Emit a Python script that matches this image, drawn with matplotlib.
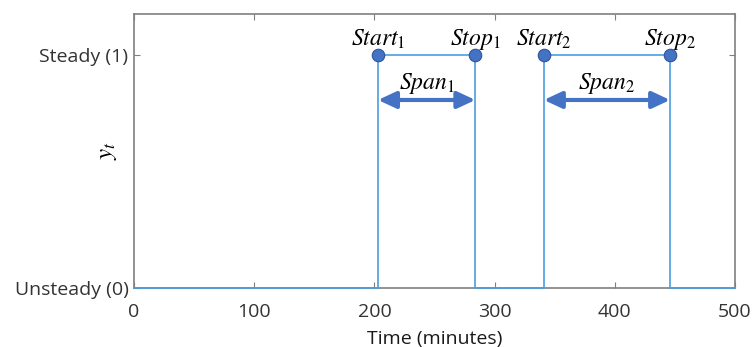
import numpy as np
import matplotlib.pyplot as plt

plt.rcParams["font.family"] = ["Open Sans", "DejaVu Sans"]
plt.rcParams["mathtext.fontset"] = "stix"

# step signal: steady periods
starts = [203, 341]
stops = [284, 446]
t_min, t_max = 0, 500
x_ticks = [0, 100, 200, 300, 400, 500]
y_ticks = [0, 1]
y_ticklabels = ["Unsteady (0)", "Steady (1)"]

line_c = "#4a9ee0"
mark_c = "#4472c4"
gray = "#7f7f7f"

# build the step series from the start/stop lists
tx = [t_min]
ty = [0]
for a, b in zip(starts, stops):
    tx += [a, a, b, b]
    ty += [0, 1, 1, 0]
tx.append(t_max)
ty.append(0)

fig = plt.figure(figsize=(7.52, 3.47), dpi=100)
ax = fig.add_axes([134/752, 1 - 288/347, (735-134)/752, (288-14)/347])

ax.plot(tx, ty, color=line_c, lw=1.2, clip_on=False, zorder=3)
ax.plot(starts + stops, [1]*4, "o", ms=9, mfc=mark_c, mec="#2f5597", mew=0.8, zorder=4)

for i, (a, b) in enumerate(zip(starts, stops), start=1):
    ax.annotate("", xy=(a, 0.807), xytext=(b, 0.807),
                arrowprops=dict(arrowstyle="<|-|>,head_length=0.9,head_width=0.42",
                                color=mark_c, lw=3,
                                mutation_scale=12, shrinkA=0, shrinkB=0))
    ax.text((a+b)/2, 0.825, r"$Span_{%d}$" % i, ha="center", va="bottom", fontsize=17)
    ax.text(a, 1.015, r"$Start_{%d}$" % i, ha="center", va="bottom", fontsize=17)
    ax.text(b, 1.015, r"$Stop_{%d}$" % i, ha="center", va="bottom", fontsize=17)

ax.set_xlim(t_min, t_max)
ax.set_ylim(0, 1.176)
ax.set_xticks(x_ticks)
ax.set_yticks(y_ticks)
ax.set_yticklabels(y_ticklabels)
ax.tick_params(direction="in", top=True, right=True, length=4, color=gray,
               labelsize=14, labelcolor="#333333")
ax.tick_params(axis="x", pad=11)
ax.tick_params(axis="y", pad=4)
for s in ax.spines.values():
    s.set_color(gray)
    s.set_linewidth(1.2)

ax.set_xlabel("Time (minutes)", fontsize=14, color="#1a1a1a", labelpad=6)
ax.set_ylabel(r"$y_t$", fontsize=18)
ax.yaxis.set_label_coords(-0.025, 0.5)

plt.savefig("out.png", dpi=100)
